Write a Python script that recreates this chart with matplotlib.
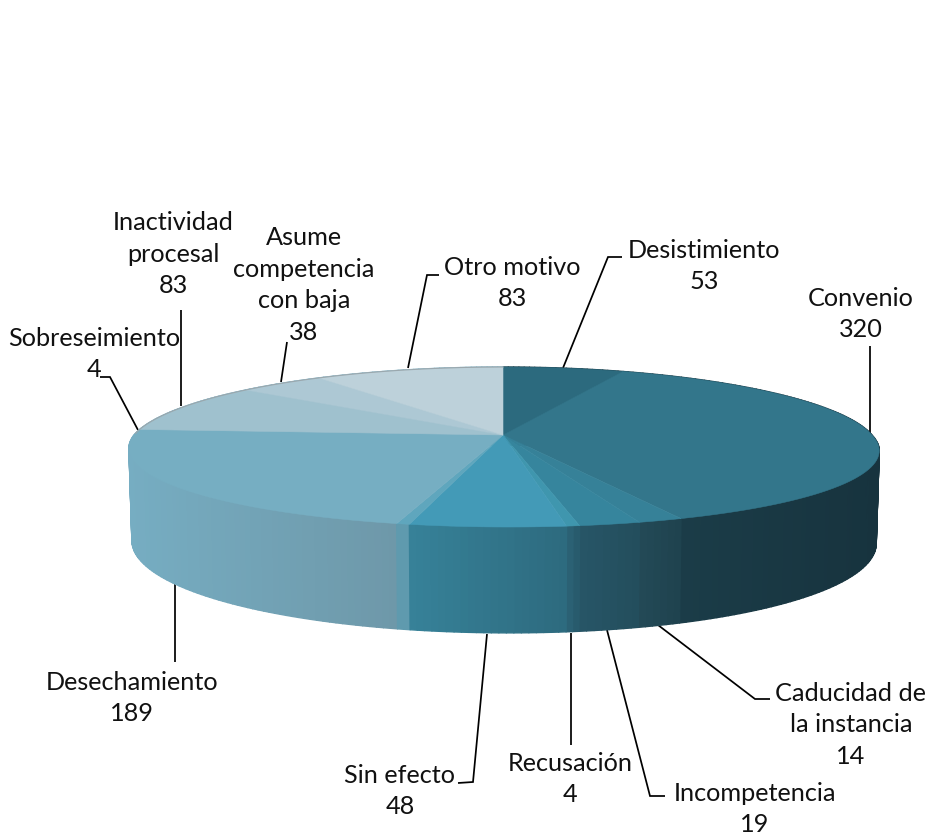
"""Perspective 3D pie of closed cases by reason, drawn by hand since matplotlib has no 3D pie."""

import matplotlib
matplotlib.use("Agg")
import matplotlib.pyplot as plt
import numpy as np
from matplotlib.collections import PolyCollection
from matplotlib.colors import to_rgb
from matplotlib.patches import Polygon

# clockwise from 12 o'clock
labels = ["Desistimiento", "Convenio", "Caducidad de\nla instancia", "Incompetencia",
          "Recusación", "Sin efecto", "Sobreseimiento", "Desechamiento",
          "Inactividad\nprocesal", "Asume\ncompetencia\ncon baja", "Otro motivo"]
values = [53, 320, 14, 19, 4, 48, 4, 189, 83, 38, 83]

top_colors = ["#2c6a7e", "#33768b", "#368198", "#36859d", "#3f96ae", "#439ab7",
              "#5fa6bd", "#76aec2", "#9fc1ce", "#adc8d4", "#bdd1da"]
# side colour at the left and right end of each slice
side_colors = [("#1c3f4b", "#1c3f4b"), ("#1c3f4b", "#17333e"), ("#234a57", "#1f424e"),
               ("#275667", "#234d5c"), ("#2c6477", "#27586a"), ("#378299", "#2d6a7e"),
               ("#5f9aae", "#5f9aae"), ("#76adc2", "#6e98a9"), ("#76adc2", "#76adc2"),
               ("#76adc2", "#76adc2"), ("#76adc2", "#76adc2")]

# label centre (x, y), leader path, in image pixels
label_pos = [(704, 266), (861, 314), (851, 725), (755, 809), (570, 779), (400, 791),
             (94, 354), (132, 698), (173, 254), (304, 285), (512, 283)]
leaders = [[(563, 368), (608, 257), (622, 257)],
           [(870, 433), (870, 346)],
           [(658, 625), (755, 699), (770, 699)],
           [(607, 630), (650, 796), (665, 796)],
           [(571, 633), (571, 745)],
           [(487, 634), (473, 782), (458, 783)],
           [(138, 430), (110, 377), (100, 377)],
           [(175, 583), (175, 662)],
           [(181, 406), (181, 310)],
           [(281, 382), (287, 342)],
           [(408, 368), (427, 275), (439, 275)]]

CX, CY = 503, 435   # apex of the pie
RX, RY = 369, 78.2
PERSP_X, PERSP_Y = 0.18, 0.15
DEPTH = 90


def rim(theta, bottom=False):
    """Project an angle (radians, clockwise from the back) onto the rim of the disc."""
    u, v = np.sin(theta), np.cos(theta)
    w = 1 + PERSP_Y * v
    x = RX * u / (1 + PERSP_X * v) + 6 * np.clip(-v, 0, None)
    y = -RY * v / w
    if bottom:
        return CX + 0.992 * x, CY + y + DEPTH / w
    return CX + x, CY + y


edges = np.cumsum([0] + values) / sum(values) * 2 * np.pi

fig = plt.figure(figsize=(9.28, 8.39), dpi=100, facecolor="white")
ax = fig.add_axes([0, 0, 1, 1])
ax.set_xlim(0, 928)
ax.set_ylim(839, 0)
ax.axis("off")

# side wall, back to front, shaded across x
quads = []
for i in range(len(values)):
    n = max(int((edges[i + 1] - edges[i]) * 60), 2)
    th = np.linspace(edges[i], edges[i + 1], n + 1)
    x0, y0 = rim(th)
    x1, y1 = rim(th, bottom=True)
    lo, hi = x0.min(), x0.max()
    left, right = np.array(to_rgb(side_colors[i][0])), np.array(to_rgb(side_colors[i][1]))
    for j in range(n):
        t = ((x0[j] + x0[j + 1]) / 2 - lo) / (hi - lo)
        quads.append((np.cos(th[j]),
                      [(x0[j], y0[j]), (x0[j + 1], y0[j + 1]), (x1[j + 1], y1[j + 1]), (x1[j], y1[j])],
                      left + (right - left) * t))
quads.sort(key=lambda q: -q[0])
ax.add_collection(PolyCollection([q[1] for q in quads], facecolors=[q[2] for q in quads],
                                 edgecolors=[q[2] for q in quads], linewidths=1.0, zorder=2))

# top face
for i in range(len(values)):
    th = np.linspace(edges[i], edges[i + 1], 80)
    x, y = rim(th)
    pts = np.column_stack([np.r_[CX, x], np.r_[CY, y]])
    ax.add_patch(Polygon(pts, closed=True, facecolor=top_colors[i], edgecolor=top_colors[i],
                         linewidth=0.4, zorder=3))

# thin grey outline on the lighter back rim
th = np.linspace(edges[8] - 0.05, 2 * np.pi, 200)
ax.plot(*rim(th), color="#9aa7ad", lw=0.8, zorder=4)

for path in leaders:
    xs, ys = zip(*path)
    ax.plot(xs, ys, color="black", lw=1.25, zorder=1, solid_capstyle="butt", solid_joinstyle="miter")

for label, value, (x, y) in zip(labels, values, label_pos):
    ax.text(x, y, f"{label}\n{value}", ha="center", va="center", fontsize=18.2,
            family="Lato", color="#111111", linespacing=1.46, zorder=5)

fig.savefig("out.png", dpi=100, facecolor="white")
